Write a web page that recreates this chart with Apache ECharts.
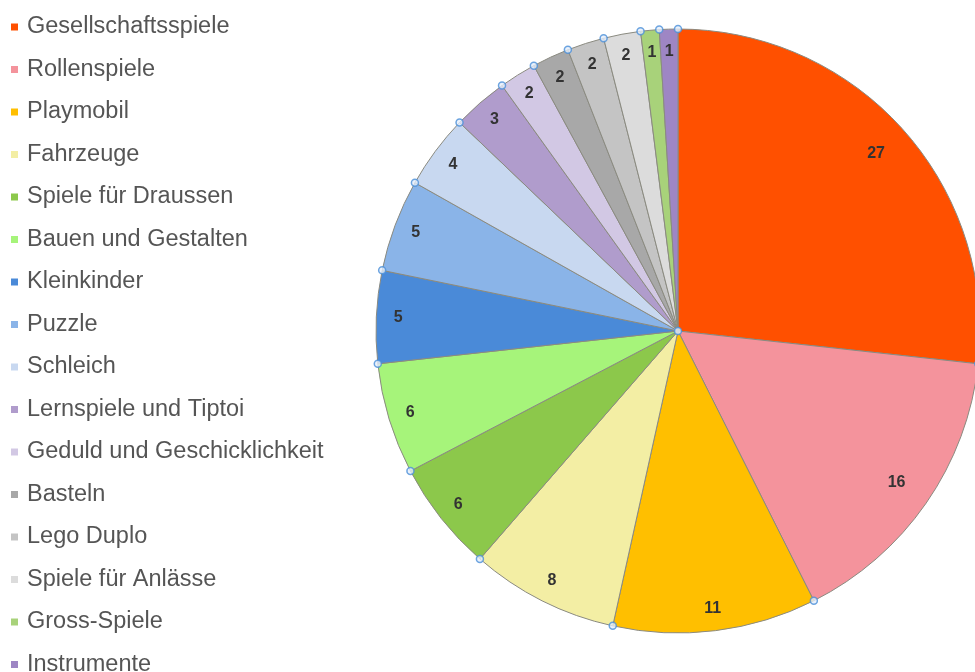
<!DOCTYPE html>
<html>
<head>
<meta charset="utf-8">
<script src="https://cdn.jsdelivr.net/npm/echarts@6/dist/echarts.min.js"></script>
<style>html,body{margin:0;padding:0;background:#fff;}#c{width:975px;height:672px;}</style>
</head>
<body>
<div id="c"></div>
<script>
const categories = ["Gesellschaftsspiele","Rollenspiele","Playmobil","Fahrzeuge","Spiele für Draussen","Bauen und Gestalten","Kleinkinder","Puzzle","Schleich","Lernspiele und Tiptoi","Geduld und Geschicklichkeit","Basteln","Lego Duplo","Spiele für Anlässe","Gross-Spiele","Instrumente"];
const values = [27,16,11,8,6,6,5,5,4,3,2,2,2,2,1,1];
const colors = ["#FF5000","#F4939C","#FFBF00","#F3EEA4","#8CC84B","#A6F47A","#4A8AD8","#8AB4E8","#C8D8F0","#B09CCC","#D2C8E4","#A8A8A8","#C4C4C4","#DCDCDC","#A8D27A","#9E86C4"];

const total = values.reduce((a,b)=>a+b,0);
const boundaries = [];
let cum = 0;
values.forEach(v => { boundaries.push([1, cum]); cum += v; });
boundaries.push([0, 0]);

const pieData = categories.map((n,i)=>({name:n, value:values[i], itemStyle:{color:colors[i]}}));
const C = [678, 331], R = 302;
const labelFont = {fontFamily:'Liberation Sans, Arial, sans-serif', fontSize:16, fontWeight:'bold', color:'#333'};

function labelRing(inner, pick){
  return {
    type:'pie', center:C, radius:[inner,R], startAngle:90, clockwise:true,
    avoidLabelOverlap:false, silent:true, legendHoverLink:false,
    itemStyle:{color:'rgba(0,0,0,0)', borderWidth:0},
    label:Object.assign({show:true, position:'inside', formatter:p => pick(p.value) ? String(p.value) : ''}, labelFont),
    labelLine:{show:false},
    data:categories.map((n,i)=>({name:n, value:values[i]}))
  };
}

const chart = echarts.init(document.getElementById('c'));
chart.setOption({
  animation:false,
  legend:{
    orient:'vertical', left:11, top:15, padding:0, height:900,
    icon:'rect', itemWidth:7, itemHeight:7, itemGap:18.5,
    itemStyle:{borderWidth:0},
    data:categories,
    textStyle:{fontFamily:'Liberation Sans, Arial, sans-serif', fontSize:23.5, lineHeight:24, color:'#555', padding:[0,0,0,4]}
  },
  polar:{center:C, radius:R},
  angleAxis:{type:'value', min:0, max:total, startAngle:90, clockwise:true, show:false},
  radiusAxis:{type:'value', min:0, max:1, show:false},
  series:[
    {
      type:'pie', center:C, radius:[0,R], startAngle:90, clockwise:true,
      avoidLabelOverlap:false, silent:true,
      itemStyle:{borderColor:'#8a8a80', borderWidth:1},
      label:{show:false}, labelLine:{show:false},
      data:pieData
    },
    labelRing(252, v => v <= 12),
    labelRing(224, v => v > 12),
    {
      type:'scatter', coordinateSystem:'polar', silent:true,
      symbol:'circle', symbolSize:7,
      itemStyle:{color:'#e3eefb', borderColor:'#4a8fd8', borderWidth:1.5},
      data:boundaries, z:5
    }
  ]
});
</script>
</body>
</html>
